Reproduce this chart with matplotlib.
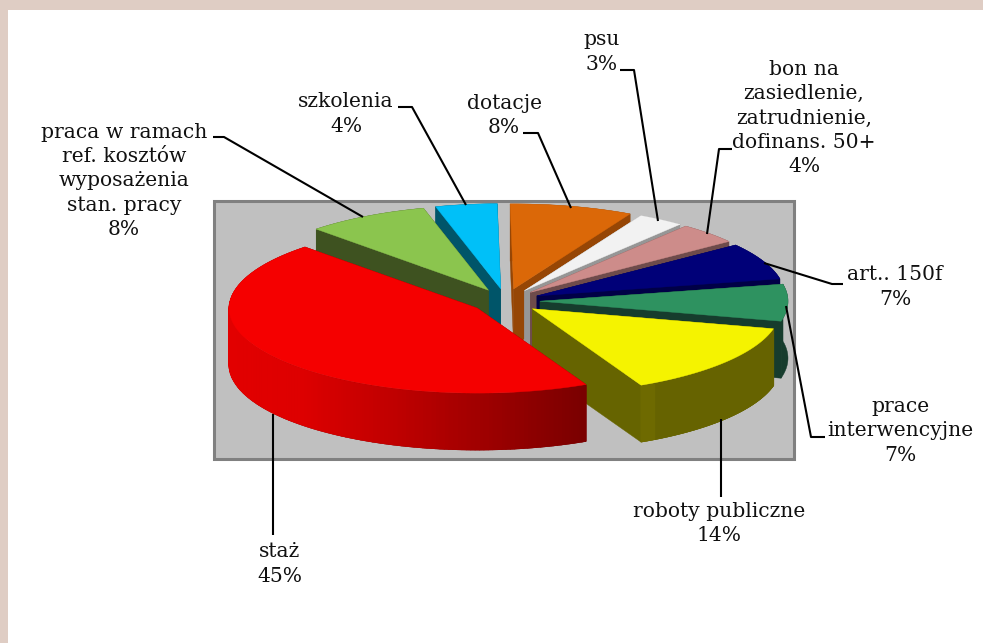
import numpy as np
import matplotlib
matplotlib.use("Agg")
import matplotlib.pyplot as plt
from matplotlib.collections import PolyCollection
from matplotlib.patches import Polygon, Rectangle

# chart data, clockwise from the top
labels = ["dotacje", "psu", "bon na\nzasiedlenie,\nzatrudnienie,\ndofinans. 50+", "art.. 150f",
          "prace\ninterwencyjne", "roboty publiczne", "staż",
          "praca w ramach\nref. kosztów\nwyposażenia\nstan. pracy", "szkolenia"]
values = [8, 3, 4, 7, 7, 14, 45, 8, 4]

top_colors = ["#db6808", "#f2f2f2", "#cd8c8a", "#000078", "#2e9260", "#f5f300", "#f50000", "#8bc54e", "#00c0f8"]
wall_colors = ["#964605", "#969696", "#6e4b4b", "#000046", "#163c2d", "#666400", "#7d0000", "#3e5220", "#005569"]

# label centres and leader lines, in picture pixels
label_pos = [(504, 115.5), (602, 52), (804, 118), (895, 287), (900, 431), (719, 523.5), (280, 564), (124, 181), (346, 114)]
leaders = [[(523, 133), (538, 133), (571, 208)],
           [(620, 70), (634, 70), (658, 221)],
           [(732, 149), (719, 149), (707, 234)],
           [(843, 284), (832, 284), (764, 263)],
           [(825, 437), (811, 437), (786, 306)],
           [(721, 419), (721, 497)],
           [(273, 414), (273, 535)],
           [(213, 137), (224, 137), (363, 217)],
           [(398, 107), (412, 107), (466, 205)]]

# pie geometry
cx, cy = 505.5, 301
rx, ry = 248, 85
depth = 57
explode_x, explode_y = 34.5, 12.4
start_angle = -0.8

# back to front, so nearer slices hide the walls of the ones behind
draw_order = [8, 0, 1, 7, 2, 3, 4, 5, 6]


def rim(x0, y0, t):
    return x0 + rx * np.sin(t), y0 - ry * np.cos(t)


fig = plt.figure(figsize=(9.83, 6.43), dpi=100)
ax = fig.add_axes([0, 0, 1, 1])
ax.set_xlim(0, 983)
ax.set_ylim(643, 0)
ax.axis("off")

# page frame
ax.add_patch(Rectangle((0, 0), 983, 9.5, color="#dfcdc4", lw=0))
ax.add_patch(Rectangle((0, 0), 8, 643, color="#dfcdc4", lw=0))

# plot area
ax.add_patch(Rectangle((214, 200.5), 580, 258, facecolor="#c0c0c0", edgecolor="#808080", lw=2.2))

edges = np.radians(np.concatenate([[0], np.cumsum(values)]) * 3.6 + start_angle)

for i in draw_order:
    t0, t1 = edges[i], edges[i + 1]
    mid = (t0 + t1) / 2
    x0 = cx + explode_x * np.sin(mid)
    y0 = cy - explode_y * np.cos(mid)

    t = np.linspace(t0, t1, 160)
    xs, ys = rim(x0, y0, t)

    # radial walls
    for ex, ey in [(xs[0], ys[0]), (xs[-1], ys[-1])]:
        ax.add_patch(Polygon([(x0, y0), (ex, ey), (ex, ey + depth), (x0, y0 + depth)],
                             facecolor=wall_colors[i], edgecolor=wall_colors[i], lw=0.3))

    # outer wall, flat except for the red and yellow slices
    ax.add_patch(Polygon(np.column_stack([np.r_[xs, xs[::-1]], np.r_[ys, ys[::-1] + depth]]),
                         facecolor=wall_colors[i], edgecolor=wall_colors[i], lw=0.3))
    if i == 5 or i == 6:
        quads = []
        cols = []
        for k in range(len(t) - 1):
            # only the strip inside the wall, neighbours overlap to hide seams
            quads.append([(xs[k], ys[k] + 1), (xs[k + 1], ys[k + 1] + 1),
                          (xs[k + 1], ys[k + 1] + depth - 0.5), (xs[k], ys[k] + depth - 0.5)])
            if i == 6:
                red = np.interp(xs[k], [228, 300, 400, 585], [226, 222, 190, 122]) / 255
                cols.append((red, 0, 0))
            else:
                cols.append((0.43, 0.415, 0) if xs[k] < 655 else (0.40, 0.39, 0))
        ax.add_collection(PolyCollection(quads, facecolors=cols, edgecolors=cols, linewidths=1.0))

    # top face
    ax.add_patch(Polygon(np.column_stack([np.r_[x0, xs], np.r_[y0, ys]]),
                         facecolor=top_colors[i], edgecolor=top_colors[i], lw=0.3))

for line in leaders:
    ax.plot([p[0] for p in line], [p[1] for p in line], color="black", lw=1.5,
            solid_joinstyle="round", solid_capstyle="butt")

for name, val, pos in zip(labels, values, label_pos):
    ax.text(pos[0], pos[1], f"{name}\n{val}%", ha="center", va="center", multialignment="center",
            family="DejaVu Serif", fontsize=14.6, linespacing=1.35, color="#111111")

fig.savefig("out.png", dpi=100)
